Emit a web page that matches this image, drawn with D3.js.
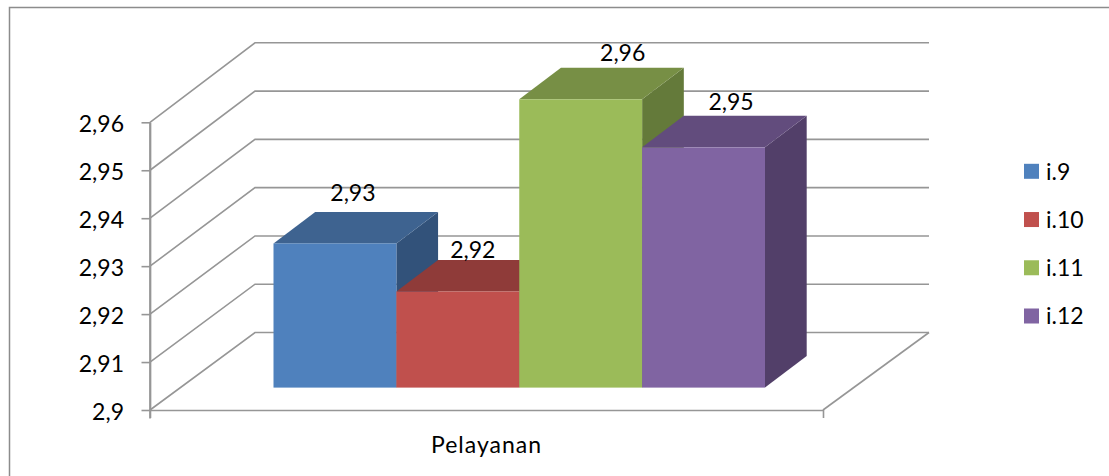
<!DOCTYPE html>
<html><head><meta charset="utf-8">
<script src="https://cdn.jsdelivr.net/npm/d3@7"></script>
<style>html,body{margin:0;padding:0;background:#fff}svg{display:block}text{font-family:Lato,"Open Sans",sans-serif;fill:#000}</style>
</head><body><svg id="c" width="1109" height="476"></svg>
<script>
const categories = ["Pelayanan"];
const seriesNames = ["i.9","i.10","i.11","i.12"];
const seriesValues = [2.93,2.92,2.96,2.95];
const tickValues = [2.9,2.91,2.92,2.93,2.94,2.95,2.96];
const tickLabels = ["2,9","2,91","2,92","2,93","2,94","2,95","2,96"];
const valueLabels = ["2,93","2,92","2,96","2,95"];
const faceColors = ["#4f81bd","#c0504d","#9bbb59","#8064a2"];
const topColors = ["#3e6390","#8f3b39","#778f45","#624c7d"];
const sideColors = ["#32527a","#7a3230","#647a3a","#523f69"];

const svg = d3.select("#c");
const grid = "#969696";
const fs = 23;
const num = d3.scaleLinear;
const yFront = num().domain([2.9,2.96]).range([410,122.3]);
const yBack  = num().domain([2.9,2.96]).range([332.5,42.8]);
const yBar   = num().domain([2.9,2.96]).range([387.6,99.3]);
const xFloor = d3.scaleBand().domain(categories).range([150,823]);
const xWall  = d3.scaleBand().domain(categories).range([255,929]);
const xBar   = d3.scaleBand().domain(seriesNames).range([273.5,765]);
const barDX = 41.7, barDY = -31.5;

// outer frame (only top and left edges are visible)
svg.append("path").attr("d","M9.5,476V7.5H1109").attr("fill","none").attr("stroke","#8c8c8c").attr("stroke-width",1.5);

// walls
const gridG = svg.append("g").attr("fill","none").attr("stroke",grid);
tickValues.forEach(v=>{
  gridG.append("path").attr("stroke-width",1.6)
    .attr("d",`M${xFloor.range()[0]},${yFront(v)}L${xWall.range()[0]},${yBack(v)}H${xWall.range()[1]}`);
});
gridG.append("path").attr("stroke-width",1.6)
  .attr("d",`M${xFloor.range()[1]},${yFront(2.9)}L${xWall.range()[1]},${yBack(2.9)}`);

// axes
const yAxis = d3.axisLeft(yFront).tickValues(tickValues).tickFormat((d,i)=>tickLabels[i]).tickSize(8.5).tickSizeOuter(0);
const yG = svg.append("g").attr("transform","translate(150,0)").call(yAxis);
yG.select(".domain").attr("stroke",grid).attr("stroke-width",1.7);
yG.selectAll(".tick line").attr("stroke",grid).attr("stroke-width",1.6);
yG.selectAll(".tick text").attr("x",-26).attr("y",0.8).attr("font-size",fs).attr("font-family","Lato").attr("fill","#000").attr("dy","0.36em");
svg.append("path").attr("d",`M150,${yFront(2.96)}V418.5`).attr("stroke",grid).attr("stroke-width",1.7);
const xAxis = d3.axisBottom(xFloor).tickValues([]).tickSize(8).tickSizeOuter(8);
const xG = svg.append("g").attr("transform",`translate(0,${yFront(2.9)})`).call(xAxis);
xG.select(".domain").attr("stroke",grid).attr("stroke-width",1.6);
svg.append("text").attr("x",486.5).attr("y",453).attr("text-anchor","middle").attr("font-size",fs).attr("letter-spacing",1).text(categories[0]);

// bars
const bars = svg.append("g").selectAll("g").data(seriesNames).join("g");
bars.each(function(name,i){
  const g = d3.select(this);
  const x0 = xBar(name), x1 = x0 + xBar.bandwidth();
  const t = yBar(seriesValues[i]), b = yBar(2.9);
  g.append("path").attr("fill",sideColors[i])
    .attr("d",`M${x1},${t}L${x1+barDX},${t+barDY}V${b+barDY}L${x1},${b}Z`);
  g.append("path").attr("fill",topColors[i])
    .attr("d",`M${x0},${t}L${x0+barDX},${t+barDY}H${x1+barDX}L${x1},${t}Z`);
  g.append("rect").attr("x",x0).attr("y",t).attr("width",xBar.bandwidth()).attr("height",b-t).attr("fill",faceColors[i]);
});
// value labels (hand-placed offsets from each bar's front-top centre)
const labelDX = [18,15,42,27.5];
const labelDY = [-51,-42,-47,-46];
svg.append("g").selectAll("text").data(seriesNames).join("text")
  .attr("x",(d,i)=>xBar(d)+xBar.bandwidth()/2+labelDX[i])
  .attr("y",(d,i)=>yBar(seriesValues[i])+labelDY[i])
  .attr("dy","0.36em")
  .attr("text-anchor","middle").attr("font-size",fs)
  .text((d,i)=>valueLabels[i]);

// legend
const yLeg = d3.scalePoint().domain(seriesNames).range([171.3,316]);
const leg = svg.append("g").selectAll("g").data(seriesNames).join("g");
leg.append("rect").attr("x",1024).attr("y",d=>yLeg(d)-7.5).attr("width",15).attr("height",15).attr("fill",(d,i)=>faceColors[i]);
leg.append("text").attr("x",1046).attr("y",d=>yLeg(d)).attr("dy","0.36em").attr("font-size",fs).text(d=>d);
</script></body></html>
